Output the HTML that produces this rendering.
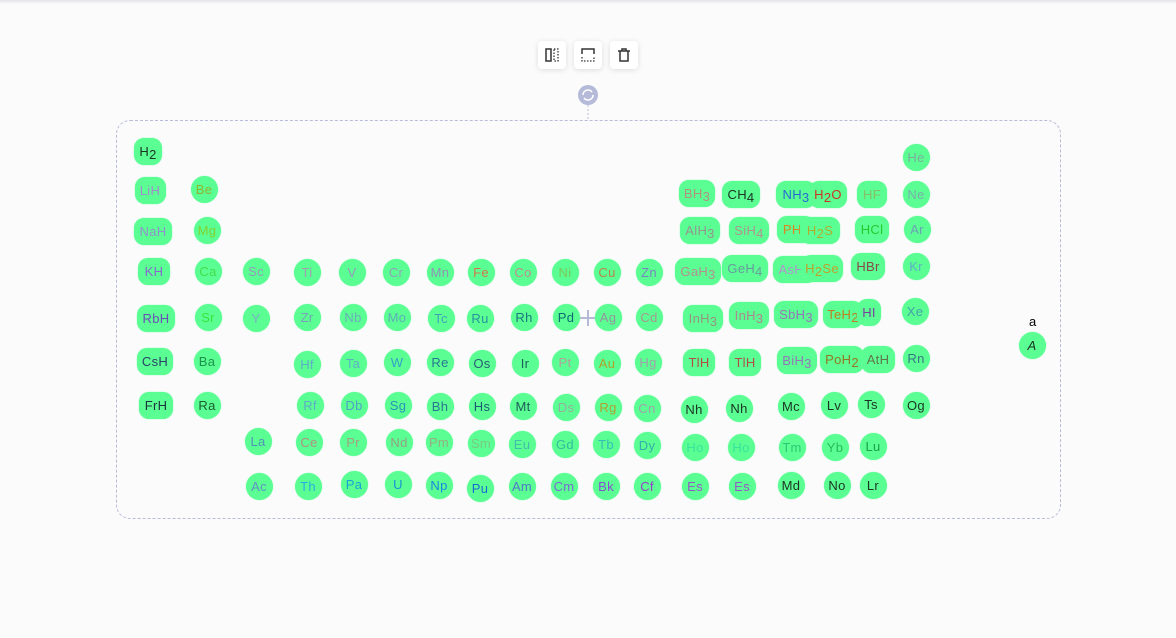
<!DOCTYPE html>
<html><head><meta charset="utf-8">
<style>
html,body{margin:0;padding:0;width:1176px;height:638px;overflow:hidden;background:#fbfbfc;font-family:"Liberation Sans",sans-serif;}
#topbar{position:absolute;left:0;top:0;width:1176px;height:4px;background:linear-gradient(#e4e4e8,#fbfbfc);}
#frame{position:absolute;left:116px;top:120px;width:943px;height:397px;border:1px dashed #b8bcd8;border-radius:14px;}
.btn{position:absolute;top:41px;width:28px;height:28px;background:#fff;border-radius:4px;box-shadow:0 1px 6px rgba(0,0,0,0.12);}
.btn svg{position:absolute;left:6px;top:6px;}
.n{position:absolute;height:27px;line-height:27px;background:#5bfe92;text-align:center;font-size:13px;box-sizing:border-box;white-space:nowrap;letter-spacing:0.3px;box-shadow:0 0 1px #5bfe92}
.n span.t{opacity:0.85}
.n sub{font-size:13px;vertical-align:-3px;line-height:0}
</style></head><body>
<div id="topbar"></div>
<div class="btn" style="left:538px"><svg width="16" height="16"><rect x="2" y="2" width="5" height="12" fill="none" stroke="#333" stroke-width="1.5"/><rect x="10" y="2" width="4" height="12" fill="none" stroke="#333" stroke-width="1.3" stroke-dasharray="1.5 1.5"/></svg></div>
<div class="btn" style="left:574px"><svg width="16" height="16"><path d="M2 7V2h12v5" fill="none" stroke="#333" stroke-width="1.5"/><path d="M2 10v4h12v-4" fill="none" stroke="#333" stroke-width="1.3" stroke-dasharray="1.5 1.5"/></svg></div>
<div class="btn" style="left:610px"><svg width="16" height="16"><path d="M2 4h12M6 4V2h4v2M4 4v10h8V4" fill="none" stroke="#333" stroke-width="1.5"/></svg></div>
<svg style="position:absolute;left:0;top:0" width="1176" height="638">
<line x1="588" y1="105" x2="588" y2="120" stroke="#b8bcd8" stroke-dasharray="2 2"/>
<circle cx="588" cy="95" r="10" fill="#b4bad8"/>
<path d="M583 95a5 5 0 0 1 9-3M593 95a5 5 0 0 1-9 3" fill="none" stroke="#fff" stroke-width="1.6"/>
<path d="M580 318h16M588 310v16" stroke="#b4bad8" stroke-width="2"/>
</svg>
<div id="frame"></div>
<div style="position:absolute;left:1029px;top:314px;font-size:13px">a</div>
<div id="nodes"></div>
<script>
// [text, centerX, centerY, width(0=circle), color]
const items=[
["H2",148,151,28,"#111"],
["LiH",150,190,31,"#b07ad8"],["Be",204,189,0,"#9aa820"],
["NaH",153,231,38,"#9b7fd6"],["Mg",207,230,0,"#8bc820"],
["KH",154,271,32,"#9050d8"],["Ca",208,271,0,"#40d840"],["Sc",256,271,0,"#a08ac0"],["Ti",307,272,0,"#b08ab8"],["V",352,272,0,"#a08ac0"],["Cr",396,272,0,"#9a90c0"],["Mn",440,272,0,"#9a80c0"],["Fe",481,272,0,"#e86040"],["Co",523,272,0,"#d07a90"],["Ni",565,272,0,"#80c050"],["Cu",607,272,0,"#c87040"],["Zn",649,272,0,"#8070c8"],
["GaH3",698,271,46,"#c87a90"],["GeH4",745,268,46,"#6a8aa0"],["AsH3",795,269,44,"#c080d8"],["H2Se",822,268,42,"#d0901a"],["HBr",868,266,34,"#902840"],["Kr",916,266,0,"#60a0d0"],
["RbH",156,318,38,"#7030c0"],["Sr",208,317,0,"#30e030"],["Y",256,318,0,"#80a0d0"],["Zr",307,317,0,"#8090c0"],["Nb",353,317,0,"#70a0c0"],["Mo",397,317,0,"#60a0c0"],["Tc",441,318,0,"#4090c0"],["Ru",480,318,0,"#2080a0"],["Rh",524,317,0,"#106080"],["Pd",566,317,0,"#005070"],["Ag",608,317,0,"#a080a0"],["Cd",649,317,0,"#b08890"],
["InH3",703,318,40,"#a08080"],["InH3",749,315,40,"#c07090"],["SbH3",796,314,44,"#a060c0"],["TeH2",843,314,40,"#d06a10"],["HI",869,312,24,"#8020a0"],["Xe",915,311,0,"#4090b0"],
["CsH",155,361,36,"#202060"],["Ba",207,361,0,"#108040"],["Hf",307,364,0,"#60a0d0"],["Ta",353,363,0,"#60a0d0"],["W",397,362,0,"#3090d0"],["Re",440,362,0,"#206090"],["Os",482,363,0,"#204070"],["Ir",525,363,0,"#104050"],["Pt",565,362,0,"#c090a0"],["Au",607,363,0,"#c09020"],["Hg",648,362,0,"#b090b0"],
["TlH",699,362,32,"#c03040"],["TlH",745,362,32,"#c03040"],["BiH3",797,360,40,"#a060c0"],["PoH2",842,359,44,"#a06010"],["AtH",878,359,34,"#606040"],["Rn",916,358,0,"#306080"],
["FrH",156,405,34,"#101030"],["Ra",207,405,0,"#104020"],["Rf",310,405,0,"#60a0d0"],["Db",354,405,0,"#5090d0"],["Sg",398,405,0,"#2080c0"],["Bh",440,406,0,"#206090"],["Hs",482,406,0,"#104070"],["Mt",523,406,0,"#104050"],["Ds",566,407,0,"#a0a0a0"],["Rg",608,407,0,"#c09020"],["Cn",647,408,0,"#b090b0"],
["Nh",694,409,0,"#111"],["Nh",739,408,0,"#111"],["Mc",791,406,0,"#111"],["Lv",834,405,0,"#111"],["Ts",871,404,0,"#111"],["Og",916,405,0,"#111"],
["La",258,441,0,"#5080c0"],["Ce",309,442,0,"#c08080"],["Pr",353,442,0,"#b09080"],["Nd",399,442,0,"#a09080"],["Pm",439,442,0,"#a0a080"],["Sm",481,443,0,"#80c080"],["Eu",522,444,0,"#40b0b0"],["Gd",565,444,0,"#30b0a0"],["Tb",606,444,0,"#30b0c0"],["Dy",647,445,0,"#30a0b0"],
["Ho",695,447,0,"#30e0a0"],["Ho",741,447,0,"#30e0a0"],["Tm",792,447,0,"#20c070"],["Yb",835,447,0,"#20b050"],["Lu",873,446,0,"#109040"],
["Ac",259,486,0,"#6080d0"],["Th",308,486,0,"#20a0f0"],["Pa",354,484,0,"#1090e0"],["U",398,484,0,"#1080e0"],["Np",439,485,0,"#1070f0"],["Pu",480,488,0,"#1050e0"],["Am",522,486,0,"#5060d0"],["Cm",564,486,0,"#8050e0"],["Bk",606,486,0,"#9030e0"],["Cf",647,486,0,"#a020d0"],
["Es",695,486,0,"#a040d0"],["Es",742,486,0,"#a040d0"],["Md",791,485,0,"#111"],["No",837,485,0,"#111"],["Lr",873,485,0,"#111"],
["BH3",697,193,36,"#c08080"],["CH4",741,194,38,"#101010"],["NH3",796,194,40,"#2050e0"],["H2O",828,194,38,"#e01010"],["HF",872,194,30,"#90b060"],["Ne",916,194,0,"#80a0b0"],
["AlH3",700,230,40,"#a08090"],["SiH4",749,230,40,"#c08090"],["PH3",796,229,38,"#f07010"],["H2S",820,230,40,"#c0a020"],["HCl",872,229,34,"#20c020"],["Ar",917,229,0,"#7090c0"],
["He",916,157,0,"#80a0a0"],
["A",1032,345,0,"#111"]
];
const host=document.getElementById('nodes');
for(const it of items){
  const d=document.createElement('div');
  d.className='n';
  const w=it[3]||27;
  d.style.left=(it[1]-w/2)+'px';
  d.style.top=(it[2]-13.5)+'px';
  d.style.width=w+'px';
  d.style.borderRadius=it[3]?'10px':'50%';
  d.style.color=it[4];
  if(it[0]==='A'){d.style.fontStyle='italic';}
  d.innerHTML='<span class="t">'+it[0].replace(/(\d)/g,'<sub>$1</sub>')+'</span>';
  
  
  host.appendChild(d);
}
</script>
</body></html>
